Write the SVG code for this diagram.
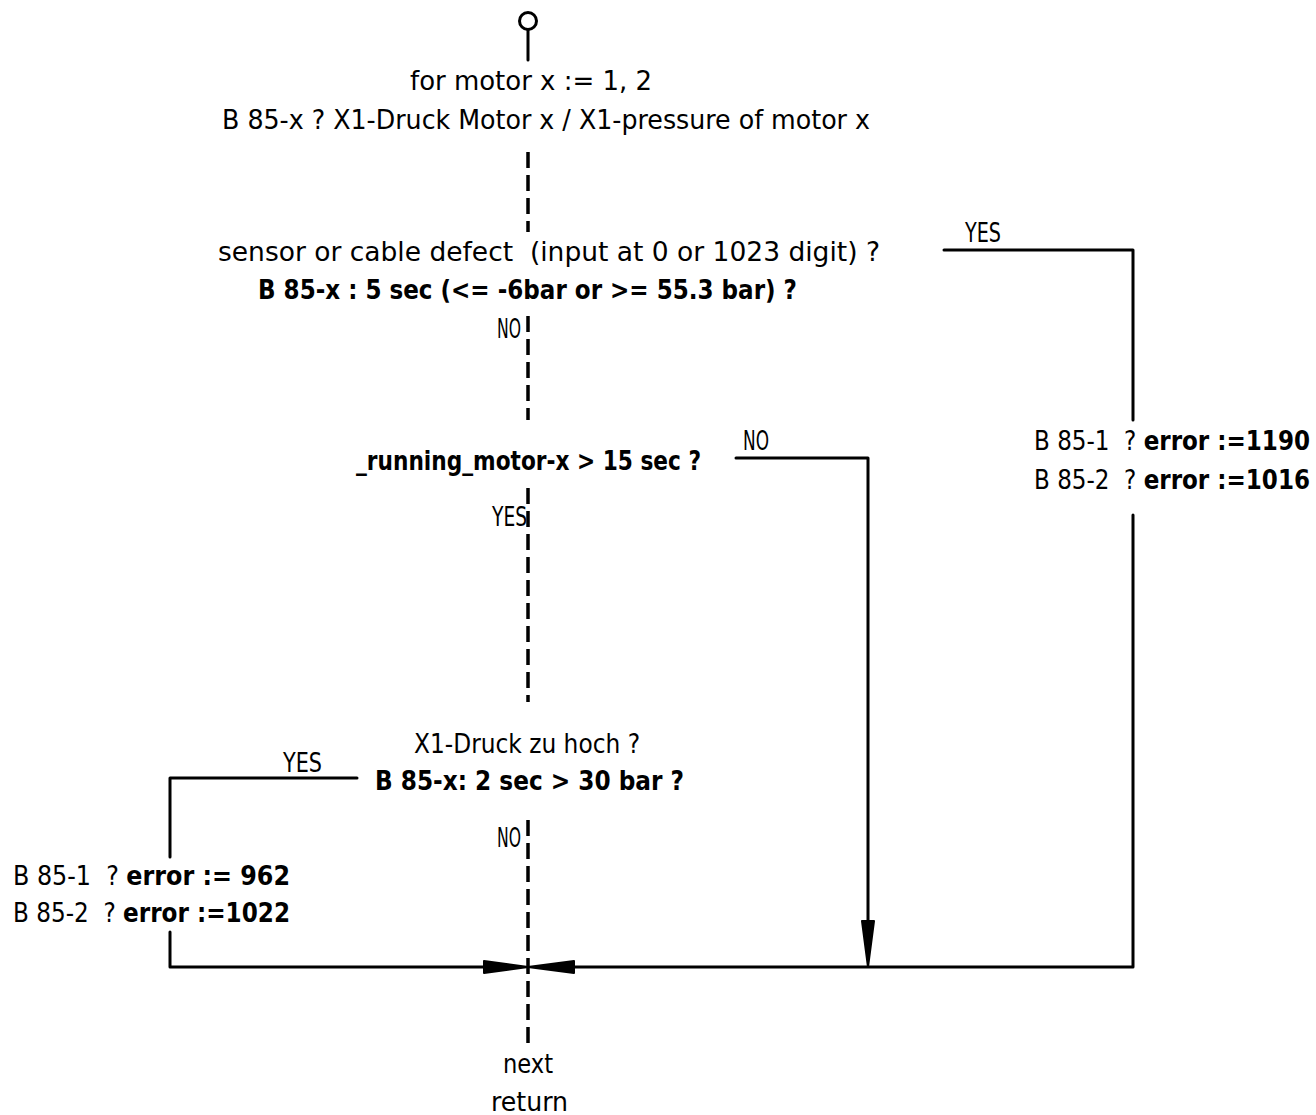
<svg xmlns="http://www.w3.org/2000/svg" width="1316" height="1115" viewBox="0 0 1316 1115">
<style>
text{font-family:"DejaVu Sans Condensed","Liberation Sans Narrow","Liberation Sans",sans-serif;font-size:26px;fill:#000}
.b{font-weight:bold}
.ln{fill:none;stroke:#000;stroke-width:3;stroke-linecap:round;stroke-linejoin:round}
.dash{fill:none;stroke:#000;stroke-width:3.5;stroke-dasharray:16 7}
.ah{fill:#000;stroke:#000;stroke-width:2;stroke-linejoin:round}
</style>
<rect width="1316" height="1115" fill="#fff"/>
<g id="connectors">
<circle cx="528" cy="21" r="8.5" class="ln"/>
<line x1="528" y1="30" x2="528" y2="60" class="ln"/>
<line x1="528" y1="152" x2="528" y2="232" class="dash"/>
<line x1="528" y1="316" x2="528" y2="420" class="dash"/>
<line x1="528" y1="488" x2="528" y2="702" class="dash"/>
<line x1="528" y1="820" x2="528" y2="1045" class="dash"/>
<polyline points="944,250 1133,250 1133,420" class="ln"/>
<polyline points="1133,515 1133,967 548,967" class="ln"/>
<polyline points="736,458 868,458 868,925" class="ln"/>
<polyline points="357,778 170,778 170,857" class="ln"/>
<polyline points="170,932 170,967 508,967" class="ln"/>
<polygon points="528,967 484,961 484,973" class="ah"/>
<polygon points="528,967 574,961 574,973" class="ah"/>
<polygon points="868,967 862,921 874,921" class="ah"/>
</g>
<g id="start">
<text x="410" y="90" textLength="242" lengthAdjust="spacingAndGlyphs">for motor x := 1, 2</text>
<text x="222" y="129" textLength="648" lengthAdjust="spacingAndGlyphs">B 85-x ? X1-Druck Motor x / X1-pressure of motor x</text>
</g>
<g id="decision1">
<text x="218" y="261" textLength="662" lengthAdjust="spacingAndGlyphs" xml:space="preserve">sensor or cable defect  (input at 0 or 1023 digit) ?</text>
<text x="258" y="299" class="b" textLength="539" lengthAdjust="spacingAndGlyphs">B 85-x : 5 sec (&lt;= -6bar or &gt;= 55.3 bar) ?</text>
<text x="497" y="338" textLength="24" lengthAdjust="spacingAndGlyphs">NO</text>
<text x="965" y="242" textLength="36" lengthAdjust="spacingAndGlyphs">YES</text>
</g>
<g id="error1">
<text x="1034" y="450" textLength="276" lengthAdjust="spacingAndGlyphs" xml:space="preserve">B 85-1  ? <tspan class="b">error :=1190</tspan></text>
<text x="1034" y="489" textLength="276" lengthAdjust="spacingAndGlyphs" xml:space="preserve">B 85-2  ? <tspan class="b">error :=1016</tspan></text>
</g>
<g id="decision2">
<text x="356" y="470" class="b" textLength="345" lengthAdjust="spacingAndGlyphs">_running_motor-x &gt; 15 sec ?</text>
<text x="743" y="450" textLength="26" lengthAdjust="spacingAndGlyphs">NO</text>
<text x="492" y="526" textLength="35" lengthAdjust="spacingAndGlyphs">YES</text>
</g>
<g id="decision3">
<text x="414" y="753" textLength="226" lengthAdjust="spacingAndGlyphs">X1-Druck zu hoch ?</text>
<text x="375" y="790" class="b" textLength="309" lengthAdjust="spacingAndGlyphs">B 85-x: 2 sec &gt; 30 bar ?</text>
<text x="283" y="772" textLength="39" lengthAdjust="spacingAndGlyphs">YES</text>
<text x="497" y="847" textLength="24" lengthAdjust="spacingAndGlyphs">NO</text>
</g>
<g id="error2">
<text x="13" y="885" textLength="277" lengthAdjust="spacingAndGlyphs" xml:space="preserve">B 85-1  ? <tspan class="b">error := 962</tspan></text>
<text x="13" y="922" textLength="277" lengthAdjust="spacingAndGlyphs" xml:space="preserve">B 85-2  ? <tspan class="b">error :=1022</tspan></text>
</g>
<g id="end">
<text x="503" y="1073" textLength="50" lengthAdjust="spacingAndGlyphs">next</text>
<text x="491" y="1111" textLength="77" lengthAdjust="spacingAndGlyphs">return</text>
</g>
</svg>
